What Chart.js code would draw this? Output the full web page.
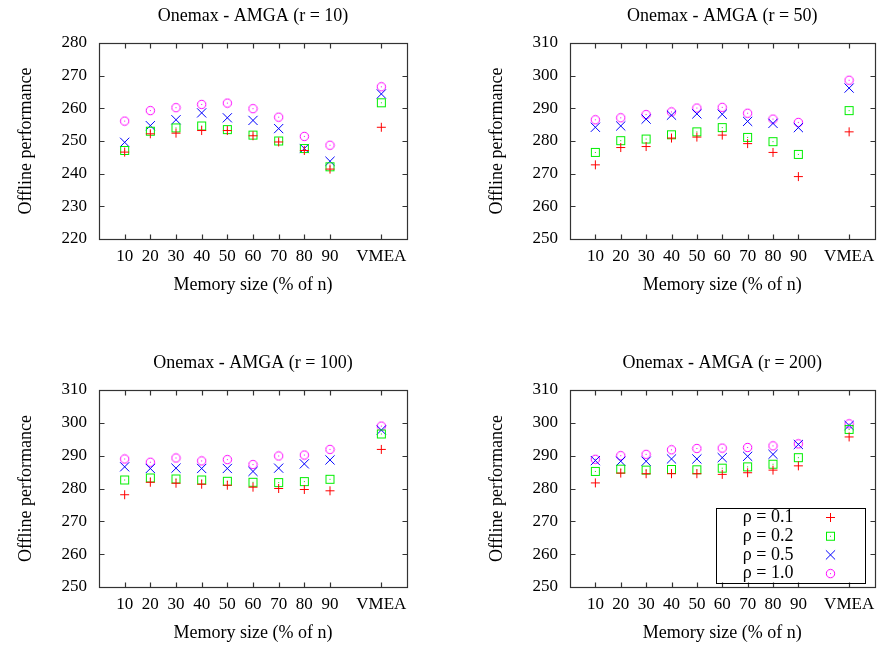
<!DOCTYPE html>
<html>
<head>
<meta charset="utf-8">
<script src="https://cdn.jsdelivr.net/npm/chart.js@4.4.1/dist/chart.umd.min.js"></script>
<style>
  html, body { margin: 0; padding: 0; background: #fff; }
  #wrap { position: relative; width: 882px; height: 648px; }
  #wrap canvas { position: absolute; left: 0; top: 0; }
</style>
</head>
<body>
<div id="wrap">
  <canvas id="c10" width="882" height="648"></canvas>
  <canvas id="c50" width="882" height="648"></canvas>
  <canvas id="c100" width="882" height="648"></canvas>
  <canvas id="c200" width="882" height="648"></canvas>
</div>
<script>
// categories on the x axis (VMEA sits one slot apart from the rest)
const memoryLabels = ['10', '20', '30', '40', '50', '60', '70', '80', '90', 'VMEA'];
const xSlots = [1, 2, 3, 4, 5, 6, 7, 8, 9, 11];
const rhoLabels = ['\u03c1 = 0.1', '\u03c1 = 0.2', '\u03c1 = 0.5', '\u03c1 = 1.0'];

// r = 10
const r10_rho01 = [246.6, 252.2, 252.4, 253.2, 253.2, 251.6, 249.7, 247.1, 241.4, 254.2];
const r10_rho02 = [247.1, 253.0, 254.0, 254.6, 253.5, 251.8, 250.0, 247.7, 242.1, 261.7];
const r10_rho05 = [249.6, 254.7, 256.5, 258.6, 257.1, 256.3, 253.8, 247.7, 243.8, 264.4];
const r10_rho10 = [256.1, 259.3, 260.2, 261.2, 261.6, 259.9, 257.3, 251.4, 248.7, 266.6];

// r = 50
const r50_rho01 = [272.7, 278.0, 278.3, 280.9, 281.2, 281.8, 279.2, 276.5, 269.1, 282.8];
const r50_rho02 = [276.5, 280.1, 280.6, 281.9, 282.8, 284.1, 281.1, 279.8, 275.9, 289.3];
const r50_rho05 = [284.2, 284.6, 286.7, 287.9, 288.3, 288.2, 286.0, 285.4, 284.1, 296.2];
const r50_rho10 = [286.5, 287.1, 288.1, 288.9, 290.1, 290.3, 288.5, 286.7, 285.7, 298.6];

// r = 100
const r100_rho01 = [278.1, 281.9, 281.6, 281.3, 281.0, 280.4, 280.0, 279.7, 279.3, 291.9];
const r100_rho02 = [282.6, 283.2, 282.9, 282.6, 282.2, 281.9, 281.8, 282.1, 282.8, 296.6];
const r100_rho05 = [286.6, 286.1, 286.2, 286.1, 286.1, 285.2, 286.2, 287.5, 288.7, 297.8];
const r100_rho10 = [289.0, 288.0, 289.3, 288.4, 288.8, 287.3, 289.9, 290.2, 291.9, 299.0];

// r = 200
const r200_rho01 = [281.7, 284.7, 284.5, 284.5, 284.5, 284.3, 284.8, 285.6, 286.9, 295.7];
const r200_rho02 = [285.2, 285.9, 285.6, 285.8, 285.7, 286.2, 286.6, 287.4, 289.4, 298.0];
const r200_rho05 = [288.5, 288.3, 288.3, 289.0, 289.0, 289.4, 289.8, 290.4, 293.4, 299.2];
const r200_rho10 = [288.9, 290.0, 290.4, 291.8, 292.2, 292.3, 292.5, 293.0, 293.6, 299.7];

const FONT = "'Liberation Serif', 'Times New Roman', serif";
Chart.defaults.font.family = FONT;
Chart.defaults.color = '#000';

// gnuplot-like open square / circle with a dot in the middle
function markerImage(shape, color) {
  const c = document.createElement('canvas');
  c.width = 11; c.height = 11;
  const g = c.getContext('2d');
  g.strokeStyle = color;
  g.fillStyle = color;
  g.lineWidth = 1;
  if (shape === 'square') {
    g.strokeRect(1.5, 1.5, 8, 8);
  } else {
    g.beginPath();
    g.arc(5.5, 5.5, 4.2, 0, Math.PI * 2);
    g.stroke();
  }
  g.fillRect(5, 5, 1, 1);
  return c;
}

const colors = ['#ff0000', '#00ee00', '#0000ff', '#ff00ff'];
const styles = ['cross', markerImage('square', colors[1]), 'crossRot', markerImage('circle', colors[3])];
const radii = [4.5, 5.5, 6.5, 5.5];

// frame around the plot with inward ticks on every side
const framePlugin = {
  id: 'frame',
  beforeDatasetsDraw(chart) {
    const {ctx, chartArea: a, scales: {x, y}} = chart;
    const L = Math.round(a.left) + 0.5, R = Math.round(a.right) + 0.5;
    const T = Math.round(a.top) + 0.5, B = Math.round(a.bottom) + 0.5;
    ctx.save();
    ctx.strokeStyle = '#333';
    ctx.lineWidth = 1.2;
    ctx.strokeRect(L, T, R - L, B - T);
    ctx.beginPath();
    y.ticks.forEach(t => {
      const py = Math.round(y.getPixelForValue(t.value)) + 0.5;
      ctx.moveTo(L, py); ctx.lineTo(L + 5, py);
      ctx.moveTo(R, py); ctx.lineTo(R - 5, py);
    });
    x.ticks.forEach(t => {
      const px = Math.round(x.getPixelForValue(t.value)) + 0.5;
      ctx.moveTo(px, B); ctx.lineTo(px, B - 5);
      ctx.moveTo(px, T); ctx.lineTo(px, T + 5);
    });
    ctx.stroke();
    ctx.restore();
  }
};

// boxed key: text on the left, symbol on the right
const keyPlugin = {
  id: 'boxKey',
  afterDatasetsDraw(chart) {
    const {ctx, chartArea: a} = chart;
    const w = 149, h = 75;
    const left = Math.round(a.right - 10 - w) + 0.5;
    const top = Math.round(a.bottom - 4 - h) + 0.5;
    ctx.save();
    ctx.strokeStyle = '#000';
    ctx.lineWidth = 1;
    ctx.strokeRect(left, top, w, h);
    ctx.font = '18px ' + FONT;
    ctx.fillStyle = '#000';
    ctx.textAlign = 'right';
    ctx.textBaseline = 'middle';
    chart.data.datasets.forEach((ds, i) => {
      const cy = top + 9 + i * 18.7;
      ctx.fillStyle = '#000';
      ctx.fillText(ds.label, left + 77, cy);
      ctx.strokeStyle = ds.borderColor;
      ctx.fillStyle = ds.borderColor;
      ctx.lineWidth = 1;
      Chart.helpers.drawPoint(ctx, {pointStyle: ds.pointStyle, radius: ds.pointRadius, borderWidth: 1, rotation: 0}, left + 114, cy);
    });
    ctx.restore();
  }
};

function panelConfig(title, yMin, yMax, series, area, withKey) {
  return {
    type: 'scatter',
    data: {
      datasets: series.map((vals, i) => ({
        label: rhoLabels[i],
        data: vals.map((v, k) => ({x: xSlots[k], y: v})),
        showLine: false,
        pointStyle: styles[i],
        pointRadius: radii[i],
        pointHoverRadius: radii[i],
        borderColor: colors[i],
        backgroundColor: 'rgba(0,0,0,0)',
        borderWidth: 1
      }))
    },
    options: {
      responsive: false,
      animation: false,
      layout: {
        padding: {
          left: area.left - 90,
          right: 882 - area.right,
          top: area.top - 37.6,
          bottom: 648 - area.bottom - 60
        }
      },
      plugins: {
        legend: {display: false},
        tooltip: {enabled: false},
        title: {
          display: true,
          text: title,
          fullSize: false,
          color: '#000',
          font: {size: 18, weight: 'normal'},
          padding: {top: 0, bottom: 16}
        }
      },
      scales: {
        x: {
          type: 'linear',
          min: 0,
          max: 12,
          afterBuildTicks: s => { s.ticks = xSlots.map(v => ({value: v})); },
          afterFit: s => { s.height = 60; },
          grid: {display: false, drawTicks: false},
          border: {display: false},
          ticks: {
            autoSkip: false,
            maxRotation: 0,
            padding: 7,
            color: '#000',
            font: {size: 17},
            callback: v => memoryLabels[xSlots.indexOf(v)] || ''
          },
          title: {
            display: true,
            text: 'Memory size (% of n)',
            color: '#000',
            font: {size: 18},
            padding: {top: 0, bottom: 3}
          }
        },
        y: {
          min: yMin,
          max: yMax,
          afterFit: s => { s.width = 90; },
          grid: {display: false, drawTicks: false},
          border: {display: false},
          ticks: {stepSize: 10, padding: 12, color: '#000', font: {size: 17}},
          title: {
            display: true,
            text: 'Offline performance',
            color: '#000',
            font: {size: 18},
            padding: {top: 6, bottom: 0}
          }
        }
      }
    },
    plugins: withKey ? [framePlugin, keyPlugin] : [framePlugin]
  };
}

new Chart(document.getElementById('c10'), panelConfig('Onemax - AMGA (r = 10)', 220, 280,
  [r10_rho01, r10_rho02, r10_rho05, r10_rho10], {left: 99, right: 407, top: 43, bottom: 239}, false));
new Chart(document.getElementById('c50'), panelConfig('Onemax - AMGA (r = 50)', 250, 310,
  [r50_rho01, r50_rho02, r50_rho05, r50_rho10], {left: 570, right: 877, top: 43, bottom: 239}, false));
new Chart(document.getElementById('c100'), panelConfig('Onemax - AMGA (r = 100)', 250, 310,
  [r100_rho01, r100_rho02, r100_rho05, r100_rho10], {left: 99, right: 407, top: 390, bottom: 587}, false));
new Chart(document.getElementById('c200'), panelConfig('Onemax - AMGA (r = 200)', 250, 310,
  [r200_rho01, r200_rho02, r200_rho05, r200_rho10], {left: 570, right: 877, top: 390, bottom: 587}, true));
</script>
</body>
</html>
